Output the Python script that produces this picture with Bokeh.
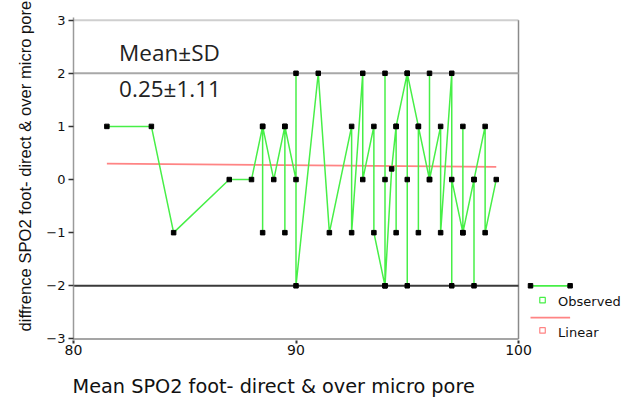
from bokeh.plotting import figure
from bokeh.models import Range1d, FixedTicker, Label, Title, LinearAxis
from bokeh.embed import file_html
from bokeh.resources import INLINE

# ---------------- data ----------------
# observed points, in the order the SPSS "Observed" line joins them
obs_x = [81.5, 83.5, 84.5, 87.0, 88.0,
         88.5, 88.5, 88.5,
         89.0,
         89.5, 89.5, 89.5,
         90.0, 90.0, 90.0,
         91.0, 91.5,
         92.5, 92.5,
         93.0, 93.0,
         93.5, 93.5,
         94.0, 94.0, 94.0, 94.0,
         94.3,
         94.5, 94.5, 94.5,
         95.0, 95.0, 95.0, 95.0,
         95.5, 95.5, 95.5,
         96.0, 96.0, 96.0,
         96.5, 96.5,
         97.0, 97.0, 97.0,
         97.5, 97.5, 97.5,
         98.0, 98.0, 98.0,
         98.5, 98.5,
         99.0]
obs_y = [1, 1, -1, 0, 0,
         1, -1, 1,
         0,
         1, -1, 1,
         0, 2, -2,
         2, -1,
         1, -1,
         2, 0,
         1, -1,
         -2, 0, 2, -2,
         0.2,
         1, -1, 1,
         2, 0, -2, 2,
         1, -1, 1,
         0, 2, 0,
         1, -1,
         2, -2, 0,
         -1, 1, -1,
         0, -2, 0,
         1, -1,
         0]
# linear fit line
fit_x = [81.5, 99.0]
fit_y = [0.30, 0.24]

x_ticks = [80, 90, 100]
y_ticks = [-3, -2, -1, 0, 1, 2, 3]
limit_lines = [2, -2]
x_title = "Mean SPO2 foot- direct & over micro pore"
y_title = "diffrence SPO2 foot- direct & over micro pore"
stat_lines = ["Mean\u00b1SD", "0.25\u00b11.11"]
legend_labels = ["Observed", "Linear"]

# ---------------- layout ----------------
X0, X1 = 80, 100
Y0, Y1 = -3, 3
W, H = 633, 398
FL, FT = 73, 17
PX_X = 22.25
PX_Y = 53.3
x_end = X0 + (W - FL) / PX_X
y_top = Y1 + 0.05
y_bot = Y0 - 0.03
frame_h = (y_top - y_bot) * PX_Y
FB = int(round(H - FT - frame_h))

GREEN = "#47ef47"
PINK = "#ff8484"

p = figure(width=W, height=H, x_range=Range1d(X0, x_end), y_range=Range1d(y_bot, y_top),
           output_backend="svg", toolbar_location=None,
           min_border_left=FL, min_border_top=FT, min_border_right=0, min_border_bottom=FB)
p.outline_line_color = None
p.xgrid.visible = False
p.ygrid.visible = False
p.background_fill_color = "white"
p.border_fill_color = "white"

# axes
p.xaxis.ticker = FixedTicker(ticks=x_ticks)
p.xaxis.axis_line_color = None
p.xaxis.major_tick_out = 3
p.xaxis.major_tick_in = 0
p.xaxis.major_tick_line_width = 2
p.xaxis.major_tick_line_color = "#333333"
p.xaxis.minor_tick_line_color = None
p.xaxis.major_label_text_font = "DejaVu Sans"
p.xaxis.major_label_text_font_size = "14px"
p.xaxis.major_label_text_color = "#111111"
p.xaxis.major_label_standoff = 1

p.yaxis.ticker = FixedTicker(ticks=y_ticks)
p.yaxis.axis_line_color = "#9a9a9a"
p.yaxis.axis_line_width = 1.5
p.yaxis.major_tick_out = 5
p.yaxis.major_tick_in = 0
p.yaxis.major_tick_line_width = 1.5
p.yaxis.major_tick_line_color = "#333333"
p.yaxis.minor_tick_line_color = None
p.yaxis.major_label_text_font = "DejaVu Sans"
p.yaxis.major_label_text_font_size = "13px"
p.yaxis.major_label_text_color = "#111111"
p.yaxis.major_label_standoff = 3

# invisible spacer below the x axis (white tick on white), pushes the x title down
spacer = LinearAxis(ticker=FixedTicker(ticks=[X0]), axis_line_color=None,
                    major_tick_out=14, major_tick_in=0, major_tick_line_color="white",
                    minor_tick_line_color=None, major_label_standoff=0,
                    major_label_overrides={X0: ""}, major_label_text_font_size="1px")
p.add_layout(spacer, "below")

# axis titles (as titles so they can sit outside the plot frame)
p.add_layout(Title(text=x_title, align="left", offset=-1, standoff=2,
                   text_font="DejaVu Sans", text_font_size="19.3px",
                   text_font_style="normal", text_color="#111111"), "below")
p.add_layout(Title(text=y_title, align="left", offset=9, standoff=17,
                   text_font="Liberation Sans", text_font_size="16.6px",
                   text_font_style="normal", text_color="#111111"), "left")

# frame edges and limit lines
p.line([X0, X1], [Y1, Y1], line_color="#cfcfcf", line_width=2)
p.line([X0, X1], [Y0, Y0], line_color="#a5a5a5", line_width=2)
p.line([X1, X1], [Y0, Y1], line_color="#8a8a8a", line_width=1.5)
p.line([X0, X1], [limit_lines[0]] * 2, line_color="#a8a8a8", line_width=2)
p.line([X0, X1], [limit_lines[1]] * 2, line_color="#3a3a3a", line_width=2)

# data
p.line(fit_x, fit_y, line_color=PINK, line_width=1.8)
p.line(obs_x, obs_y, line_color=GREEN, line_width=1.5)
p.scatter(obs_x, obs_y, marker="square", size=4.5, fill_color="black", line_color="black")

# legend (drawn beyond the plotted x range, as in the original)
LEG_X0, LEG_X1 = 100.54, 102.32
LEG_SQ_X = 101.08
LEG_TX = 101.78
p.line([LEG_X0, LEG_X1], [-2.0, -2.0], line_color=GREEN, line_width=1.8)
p.scatter([LEG_X0, LEG_X1], [-2.0, -2.0], marker="square", size=4.5,
          fill_color="black", line_color="black")
p.scatter([LEG_SQ_X], [-2.27], marker="square", size=5.5, fill_color=None,
          line_color=GREEN, line_width=1.2)
p.line([LEG_X0, LEG_X1], [-2.6, -2.6], line_color=PINK, line_width=1.8)
p.scatter([LEG_SQ_X], [-2.84], marker="square", size=5.5, fill_color=None,
          line_color=PINK, line_width=1.2)
for txt, yy in zip(legend_labels, [-2.29, -2.87]):
    p.add_layout(Label(x=LEG_TX, y=yy, text=txt, text_font="DejaVu Sans",
                       text_font_size="13px", text_color="#111111",
                       text_baseline="middle", text_align="left"))

# statistics text
for txt, yy in zip(stat_lines, [2.39, 1.72]):
    p.add_layout(Label(x=82.05, y=yy, text=txt, text_font="Open Sans",
                       text_font_size="22.5px", text_color="#222222",
                       text_baseline="middle", text_align="left"))

open("out.html", "w").write(file_html(p, INLINE))
